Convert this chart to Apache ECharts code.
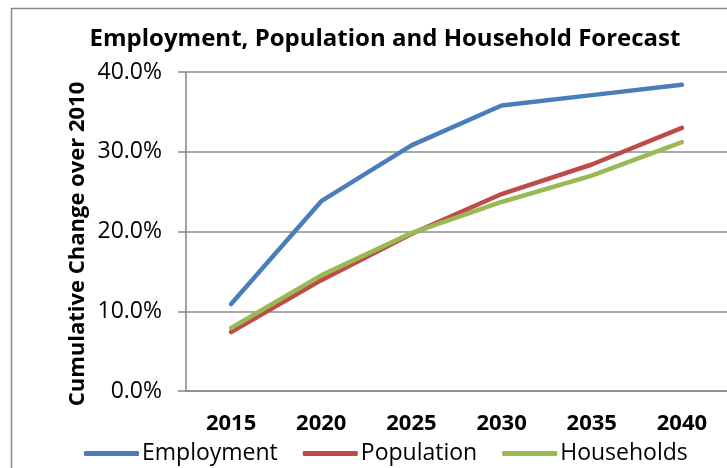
<!DOCTYPE html>
<html>
<head>
<meta charset="utf-8">
<script src="https://cdn.jsdelivr.net/npm/echarts@6/dist/echarts.min.js"></script>
<style>
  html, body { margin: 0; padding: 0; background: #fff; }
  #chart { width: 727px; height: 468px; }
</style>
</head>
<body>
<div id="chart"></div>
<script>
// Forecast years and cumulative change (%) relative to 2010
const years = ['2015', '2020', '2025', '2030', '2035', '2040'];
const employment = [10.9, 23.8, 30.8, 35.8, 37.1, 38.4];
const population = [7.4, 13.9, 19.7, 24.7, 28.4, 33.0];
const households = [7.9, 14.5, 19.8, 23.7, 27.0, 31.2];
const yTicks = [0, 10, 20, 30, 40];
const yAxisTitle = 'Cumulative Change over 2010';

const FONT = 'Open Sans';
const AXIS_GREY = '#868686';

const lineSeries = (name, data, color) => ({
  name, type: 'line', data, showSymbol: false, color,
  lineStyle: { width: 4.5, color, cap: 'round', join: 'round' }
});

const chart = echarts.init(document.getElementById('chart'));
chart.setOption({
  animation: false,
  backgroundColor: '#fff',
  textStyle: { fontFamily: FONT, color: '#000' },
  title: {
    text: 'Employment, Population and Household Forecast',
    left: 380, top: 22, textAlign: 'center',
    textStyle: { fontFamily: FONT, fontWeight: 'bold', fontSize: 24, color: '#000' }
  },
  graphic: [
    {
      type: 'rect', silent: true,
      shape: { x: 11.5, y: 8.5, width: 760, height: 500 },
      style: { fill: 'none', stroke: '#8a8a8a', lineWidth: 1.5 }
    },
    {
      type: 'text', silent: true,
      x: 78, y: 244, rotation: Math.PI / 2,
      style: {
        text: yAxisTitle, fill: '#000',
        font: 'bold 22px "' + FONT + '"',
        align: 'center', verticalAlign: 'middle'
      }
    }
  ],
  legend: {
    left: 79, top: 437, itemGap: 25,
    itemWidth: 55, itemHeight: 5,
    icon: 'roundRect',
    textStyle: { fontFamily: FONT, fontSize: 23, color: '#000', padding: [0, 0, 0, -2] },
    data: ['Employment', 'Population', 'Households']
  },
  grid: { left: 186, top: 72, width: 546, height: 319 },
  xAxis: {
    type: 'category', data: years, boundaryGap: true,
    axisLine: { show: true, lineStyle: { color: AXIS_GREY, width: 1.5 } },
    axisTick: { show: false },
    splitLine: { show: false },
    axisLabel: { margin: 22, fontFamily: FONT, fontWeight: 'bold', fontSize: 22, color: '#000' }
  },
  yAxis: {
    type: 'value', min: yTicks[0], max: yTicks[yTicks.length - 1], interval: 10,
    axisLine: { show: true, lineStyle: { color: AXIS_GREY, width: 1.5 } },
    axisTick: { show: true, length: 8, lineStyle: { color: AXIS_GREY, width: 1.5 } },
    splitLine: { show: true, lineStyle: { color: '#8c8c8c', width: 1.5 } },
    axisLabel: {
      margin: 24, fontFamily: FONT, fontSize: 23, color: '#000',
      formatter: v => v.toFixed(1) + '%'
    }
  },
  series: [
    lineSeries('Employment', employment, '#4A7EBB'),
    lineSeries('Population', population, '#BE4B48'),
    lineSeries('Households', households, '#98B954')
  ]
});
</script>
</body>
</html>
